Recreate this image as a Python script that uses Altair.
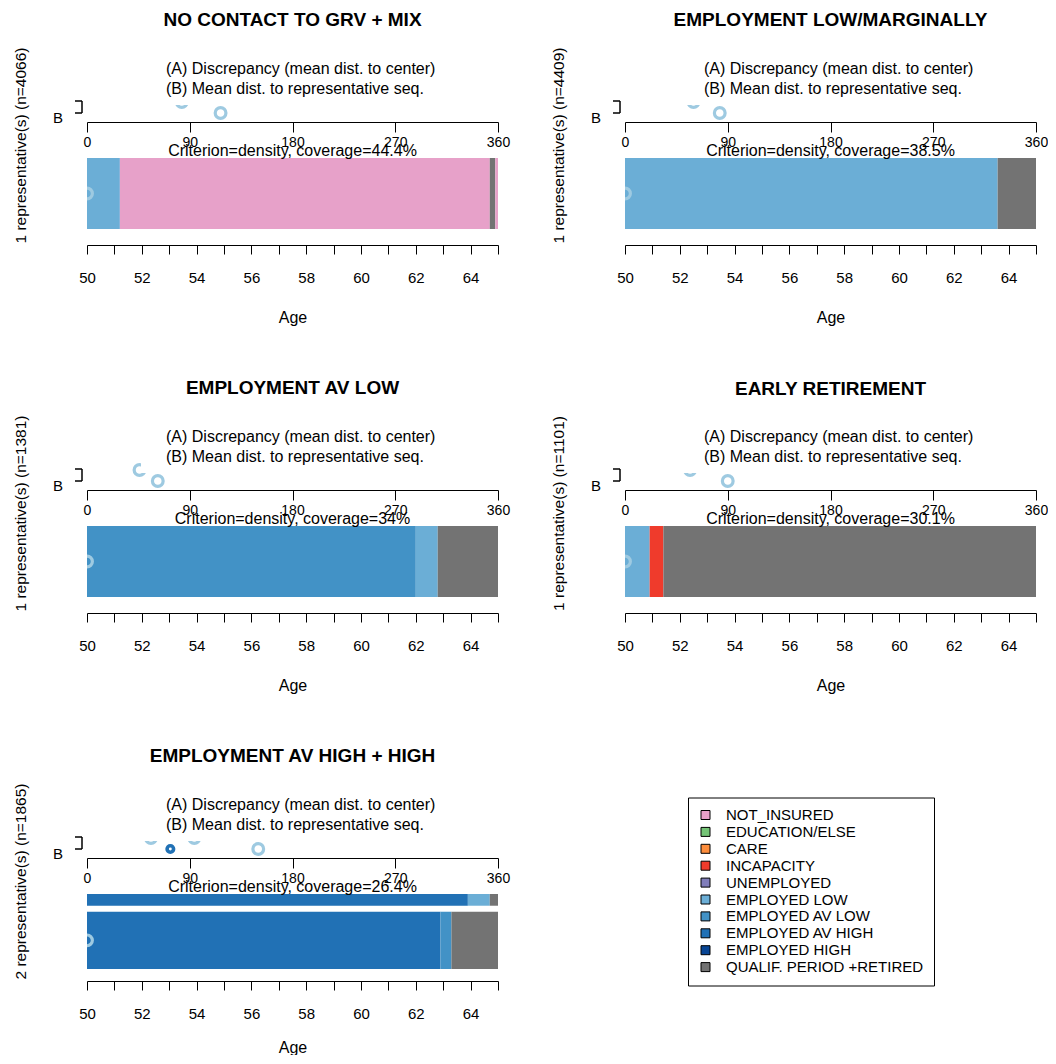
import altair as alt
import pandas as pd

# ---------------- data ----------------
STATES = ["NOT_INSURED", "EDUCATION/ELSE", "CARE", "INCAPACITY", "UNEMPLOYED",
          "EMPLOYED LOW", "EMPLOYED AV LOW", "EMPLOYED AV HIGH", "EMPLOYED HIGH",
          "QUALIF. PERIOD +RETIRED"]
STATE_COLORS = ["#e7a1c9", "#74c476", "#fd8d3c", "#ef3b2c", "#807dba",
                "#6baed6", "#4292c6", "#2171b5", "#084594", "#737373"]

PANEL_TITLES = ["NO CONTACT TO GRV + MIX", "EMPLOYMENT LOW/MARGINALLY",
                "EMPLOYMENT AV LOW", "EARLY RETIREMENT", "EMPLOYMENT AV HIGH + HIGH"]
N_SEQ = [4066, 4409, 1381, 1101, 1865]
COVERAGE = ["44.4%", "38.5%", "34%", "30.1%", "26.4%"]

# representative sequences: states of successive spells and the age at which each spell ends
REP_STATES = [
    [["EMPLOYED LOW", "NOT_INSURED", "QUALIF. PERIOD +RETIRED", "NOT_INSURED"]],
    [["EMPLOYED LOW", "QUALIF. PERIOD +RETIRED"]],
    [["EMPLOYED AV LOW", "EMPLOYED LOW", "QUALIF. PERIOD +RETIRED"]],
    [["EMPLOYED LOW", "INCAPACITY", "QUALIF. PERIOD +RETIRED"]],
    [["EMPLOYED AV HIGH", "EMPLOYED LOW", "QUALIF. PERIOD +RETIRED"],
     ["EMPLOYED AV HIGH", "EMPLOYED AV LOW", "QUALIF. PERIOD +RETIRED"]],
]
REP_ENDS = [
    [[51.2, 64.7, 64.9, 65.0]],
    [[63.6, 65.0]],
    [[62.0, 62.8, 65.0]],
    [[50.9, 51.4, 65.0]],
    [[63.9, 64.7, 65.0], [62.9, 63.3, 65.0]],
]
REP_SHARE = [[1.0], [1.0], [1.0], [1.0], [0.17, 0.83]]
DIST_REP = [[117], [83], [62], [90], [73, 150]]       # (B) mean dist. to representative seq.
DIST_CENTER = [[83], [60], [46], [57], [56, 94]]      # (A) discrepancy
AGE_START, AGE_END = 50, 65
AGE_TICKS = list(range(50, 66))
DIST_TICKS = [0, 90, 180, 270, 360]

# ---------------- layout / style ----------------
FONT = "Liberation Sans"
W = 411
Y_TOP, Y_BOT = 56, 232          # panel-relative pixel rows covered by the plot area
H = Y_BOT - Y_TOP
BAR_TOP = 157
BAR_BOTTOM = [228, 228, 228, 228, 232]
BAR_GAP = 6
LIGHT = "#9ecae1"


def marker_style(p, r):
    if p == 4 and r == 0:
        return "#2171b5", 42, 3.6
    return LIGHT, 115, 3.2


def panel(p):
    nrep = len(REP_STATES[p])
    usable = BAR_BOTTOM[p] - BAR_TOP - BAR_GAP * (nrep - 1)
    bars, barmk, bmk = [], [], []
    y = BAR_TOP
    for r in range(nrep):
        h = usable * REP_SHARE[p][r]
        start = AGE_START
        for st, end in zip(REP_STATES[p][r], REP_ENDS[p][r]):
            bars.append(dict(state=st, start=start, end=end, y0=y, y1=y + h))
            start = end
        col, size, sw = marker_style(p, r)
        barmk.append(dict(age=AGE_START, y=y + h / 2, col=col, size=size, sw=sw))
        bmk.append(dict(dist=DIST_REP[p][r], y=112, col=col, size=size, sw=sw))
        y += h + BAR_GAP
    amk = [dict(dist=d, y=101, col=LIGHT, size=115, sw=3.2) for d in DIST_CENTER[p]]

    yscale = alt.Scale(domain=[Y_TOP, Y_BOT], reverse=True, nice=False, zero=False)
    yaxis = alt.Axis(title=f"{len(REP_STATES[p])} representative(s) (n={N_SEQ[p]})",
                     labels=False, ticks=False, domain=False, grid=False,
                     titleFont=FONT, titleFontSize=15.5, titleFontWeight="normal",
                     titleColor="black", titlePadding=59)
    age_scale = alt.Scale(domain=[AGE_START, AGE_END], nice=False, zero=False)
    dist_scale = alt.Scale(domain=[0, 360], nice=False, zero=False)

    if p == 4:
        legend = alt.Legend(orient="none", legendX=601, legendY=4.5, title=None,
                            symbolType="square", symbolSize=81, symbolStrokeColor="black",
                            symbolStrokeWidth=1, symbolOpacity=1,
                            labelFont=FONT, labelFontSize=15, labelColor="black",
                            labelLimit=0, labelOffset=13, rowPadding=0.9, padding=10,
                            strokeColor="black", fillColor="white", direction="vertical")
    else:
        legend = None

    age_title_pad = 18 if p == 4 else 24

    bar_layer = alt.Chart(pd.DataFrame(bars)).mark_rect().encode(
        x=alt.X("start:Q", scale=age_scale,
                axis=alt.Axis(values=AGE_TICKS, offset=12, tickSize=9, labelPadding=16,
                              labelExpr="datum.value % 2 === 0 ? datum.label : ''",
                              title="Age", titleFont=FONT, titleFontSize=16,
                              titleFontWeight="normal", titleColor="black",
                              titlePadding=age_title_pad,
                              labelFont=FONT, labelFontSize=15, labelColor="black",
                              domainColor="black", tickColor="black", grid=False,
                              labelFlush=False, labelOverlap=False)),
        x2="end:Q",
        y=alt.Y("y0:Q", scale=yscale, axis=yaxis),
        y2="y1:Q",
        color=alt.Color("state:N", scale=alt.Scale(domain=STATES, range=STATE_COLORS),
                        legend=legend),
    )

    barmk_layer = alt.Chart(pd.DataFrame(barmk)).mark_point(
        shape="circle", filled=False, opacity=1, clip=True).encode(
        x=alt.X("age:Q", scale=age_scale, axis=None),
        y=alt.Y("y:Q", scale=yscale, axis=yaxis),
        stroke=alt.Stroke("col:N", scale=None, legend=None),
        size=alt.Size("size:Q", scale=None, legend=None),
        strokeWidth=alt.StrokeWidth("sw:Q", scale=None, legend=None),
    )

    a_layer = alt.Chart(pd.DataFrame(amk)).mark_point(
        shape="circle", filled=False, opacity=1).encode(
        x=alt.X("dist:Q", scale=dist_scale,
                axis=alt.Axis(orient="bottom", offset=-(Y_BOT - 121), values=DIST_TICKS,
                              tickSize=10, labelPadding=3, title=None, grid=False,
                              labelFont=FONT, labelFontSize=14, labelColor="black",
                              domainColor="black", tickColor="black",
                              labelFlush=False, labelOverlap=False)),
        y=alt.Y("y:Q", scale=yscale, axis=yaxis),
        stroke=alt.Stroke("col:N", scale=None, legend=None),
        size=alt.Size("size:Q", scale=None, legend=None),
        strokeWidth=alt.StrokeWidth("sw:Q", scale=None, legend=None),
    )

    box_layer = alt.Chart(pd.DataFrame({"k": [0]})).mark_rect(color="white").encode(
        x=alt.value(54), x2=alt.value(372),
        y=alt.value(0), y2=alt.value(104 - Y_TOP))

    b_layer = alt.Chart(pd.DataFrame(bmk)).mark_point(
        shape="circle", filled=False, opacity=1).encode(
        x=alt.X("dist:Q", scale=dist_scale, axis=None),
        y=alt.Y("y:Q", scale=yscale, axis=yaxis),
        stroke=alt.Stroke("col:N", scale=None, legend=None),
        size=alt.Size("size:Q", scale=None, legend=None),
        strokeWidth=alt.StrokeWidth("sw:Q", scale=None, legend=None),
    )

    key_df = pd.DataFrame({"t": ["(A) Discrepancy (mean dist. to center)",
                                 "(B) Mean dist. to representative seq."],
                           "y": [68, 88]})
    key_layer = alt.Chart(key_df).mark_text(
        align="left", baseline="middle", font=FONT, fontSize=16, color="black").encode(
        x=alt.value(79), y=alt.Y("y:Q", scale=yscale, axis=yaxis), text="t:N")

    crit_df = pd.DataFrame({"t": [f"Criterion=density, coverage={COVERAGE[p]}"], "y": [150]})
    crit_layer = alt.Chart(crit_df).mark_text(
        align="center", baseline="middle", font=FONT, fontSize=16, color="black").encode(
        x=alt.value(W / 2), y=alt.Y("y:Q", scale=yscale, axis=yaxis), text="t:N")

    blab_df = pd.DataFrame({"t": ["B"], "y": [117]})
    blab_layer = alt.Chart(blab_df).mark_text(
        align="center", baseline="middle", font=FONT, fontSize=15, color="black").encode(
        x=alt.value(-29), y=alt.Y("y:Q", scale=yscale, axis=yaxis), text="t:N")

    brk_v = alt.Chart(pd.DataFrame({"y": [100], "y2": [112]})).mark_rule(
        color="black", strokeWidth=1.5).encode(
        x=alt.value(-5), y=alt.Y("y:Q", scale=yscale, axis=yaxis), y2="y2:Q")
    brk_h = alt.Chart(pd.DataFrame({"y": [100, 112]})).mark_rule(
        color="black", strokeWidth=1.5).encode(
        x=alt.value(-12), x2=alt.value(-5), y=alt.Y("y:Q", scale=yscale, axis=yaxis))

    ch = alt.layer(bar_layer, barmk_layer, a_layer, box_layer, b_layer,
                   key_layer, crit_layer, blab_layer, brk_v, brk_h).resolve_scale(
        x="independent").properties(
        width=W, height=H,
        title=alt.TitleParams(PANEL_TITLES[p], font=FONT, fontSize=19, fontWeight="bold",
                              color="black", anchor="middle", frame="group",
                              baseline="alphabetic", offset=2))
    return ch


panels = [panel(p) for p in range(5)]
chart = alt.concat(*panels, columns=2, spacing={"row": 368 - H, "column": 625 - 87 - W},
                   bounds="flush").resolve_scale(color="independent").configure_view(
    stroke=None).properties(padding={"left": 5, "top": 2, "right": 0, "bottom": 0},
                            background="white")

chart.save("out.html", embed_options={"renderer": "svg", "actions": False})
